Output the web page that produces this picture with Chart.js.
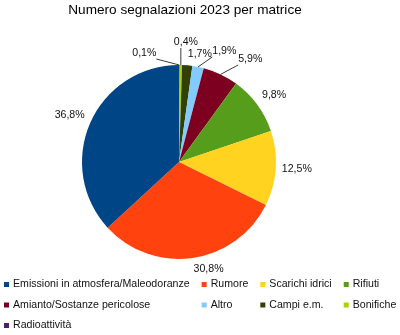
<!DOCTYPE html>
<html>
<head>
<meta charset="utf-8">
<script src="https://cdn.jsdelivr.net/npm/chart.js@4.4.1/dist/chart.umd.min.js"></script>
<style>
    body { margin: 0; background: #fff; }
    canvas { display: block; }
</style>
</head>
<body>
<canvas id="chart1" width="400" height="335"></canvas>
<script>
// dati in ordine di legenda
const titolo = 'Numero segnalazioni 2023 per matrice'
const categorie = ['Emissioni in atmosfera/Maleodoranze', 'Rumore', 'Scarichi idrici', 'Rifiuti',
    'Amianto/Sostanze pericolose', 'Altro', 'Campi e.m.', 'Bonifiche', 'Radioattività']
const percentuali = [36.8, 30.8, 12.5, 9.8, 5.9, 1.9, 1.7, 0.4, 0.1]
const colori = ['#004586', '#ff420e', '#ffd320', '#579d1c', '#7e0021', '#83caff', '#314004', '#aecf00', '#4b1f6f']

// spostamento etichette piccole (con linea di richiamo)
const spostamenti = [[0, 0], [0, 0], [0, 0], [0, 0], [15, -4], [13, -4], [0, 0], [5, -11], [-35, 0]]

const FONT = '"Liberation Sans", Arial, sans-serif'

// la torta gira in senso antiorario: inverto l'ordine per Chart.js
const ordine = categorie.map((c, i) => i).reverse()

const titlePlugin = {
    id: 'titolo',
    afterDraw(chart) {
        const ctx = chart.ctx
        ctx.save()
        ctx.font = '13.6px ' + FONT
        ctx.fillStyle = '#000'
        ctx.textAlign = 'center'
        ctx.textBaseline = 'middle'
        ctx.fillText(titolo, 185, 10)
        ctx.restore()
    }
}

const labelPlugin = {
    id: 'etichette',
    afterDatasetsDraw(chart) {
        const ctx = chart.ctx
        const meta = chart.getDatasetMeta(0)
        ctx.save()
        ctx.font = '10.6px ' + FONT
        ctx.textBaseline = 'middle'
        meta.data.forEach((arc, j) => {
            const i = ordine[j]
            const mid = (arc.startAngle + arc.endAngle) / 2
            const ux = Math.cos(mid), uy = Math.sin(mid)
            const r = arc.outerRadius
            const ax = arc.x + (r + 6) * ux
            const ay = arc.y + (r + 6) * uy
            const testo = percentuali[i].toFixed(1).replace('.', ',') + '%'
            const w = ctx.measureText(testo).width
            const h = 11
            let left = ux > 0.05 ? ax : ux < -0.05 ? ax - w : ax - w / 2
            let cy = uy > 0.3 ? ay + h / 2 : uy < -0.3 ? ay - h / 2 : ay
            const [sx, sy] = spostamenti[i]
            left += sx
            cy += sy
            if (sx || sy) {
                const px = arc.x + r * ux, py = arc.y + r * uy
                const qx = Math.min(Math.max(px, left), left + w)
                const qy = Math.min(Math.max(py, cy - h / 2), cy + h / 2)
                ctx.strokeStyle = '#3a3a3a'
                ctx.lineWidth = 1
                ctx.beginPath()
                ctx.moveTo(px, py)
                ctx.lineTo(qx, qy)
                ctx.stroke()
            }
            ctx.fillStyle = '#111'
            ctx.textAlign = 'left'
            ctx.fillText(testo, left, cy)
        })
        ctx.restore()
    }
}

const legendPlugin = {
    id: 'legenda',
    afterDraw(chart) {
        const ctx = chart.ctx
        ctx.save()
        ctx.font = '10.6px ' + FONT
        ctx.textBaseline = 'middle'
        const colonne = 4, box = 5, gap = 12
        const xs = [4]
        for (let c = 1; c < colonne; c++) {
            let maxW = 0
            categorie.forEach((cat, i) => {
                if (i % colonne === c - 1) maxW = Math.max(maxW, ctx.measureText(cat).width)
            })
            xs.push(xs[c - 1] + box + 4 + maxW + gap)
        }
        categorie.forEach((cat, i) => {
            const x = xs[i % colonne]
            const y = 284.5 + Math.floor(i / colonne) * 20.5
            ctx.fillStyle = colori[i]
            ctx.fillRect(x, y - box / 2, box, box)
            ctx.fillStyle = '#111'
            ctx.fillText(cat, x + box + 4, y)
        })
        ctx.restore()
    }
}

const data = {
    labels: ordine.map(i => categorie[i]),
    datasets: [{
        data: ordine.map(i => percentuali[i]),
        backgroundColor: ordine.map(i => colori[i]),
        borderWidth: 0
    }]
}

const options = {
    responsive: false,
    animation: false,
    devicePixelRatio: 1,
    rotation: 0,
    layout: {
        padding: { top: 65, bottom: 76, left: 82, right: 124 }
    },
    plugins: {
        legend: { display: false },
        title: { display: false },
        tooltip: { enabled: false }
    }
}

new Chart('chart1', { type: 'pie', data, options, plugins: [titlePlugin, labelPlugin, legendPlugin] })
</script>
</body>
</html>
